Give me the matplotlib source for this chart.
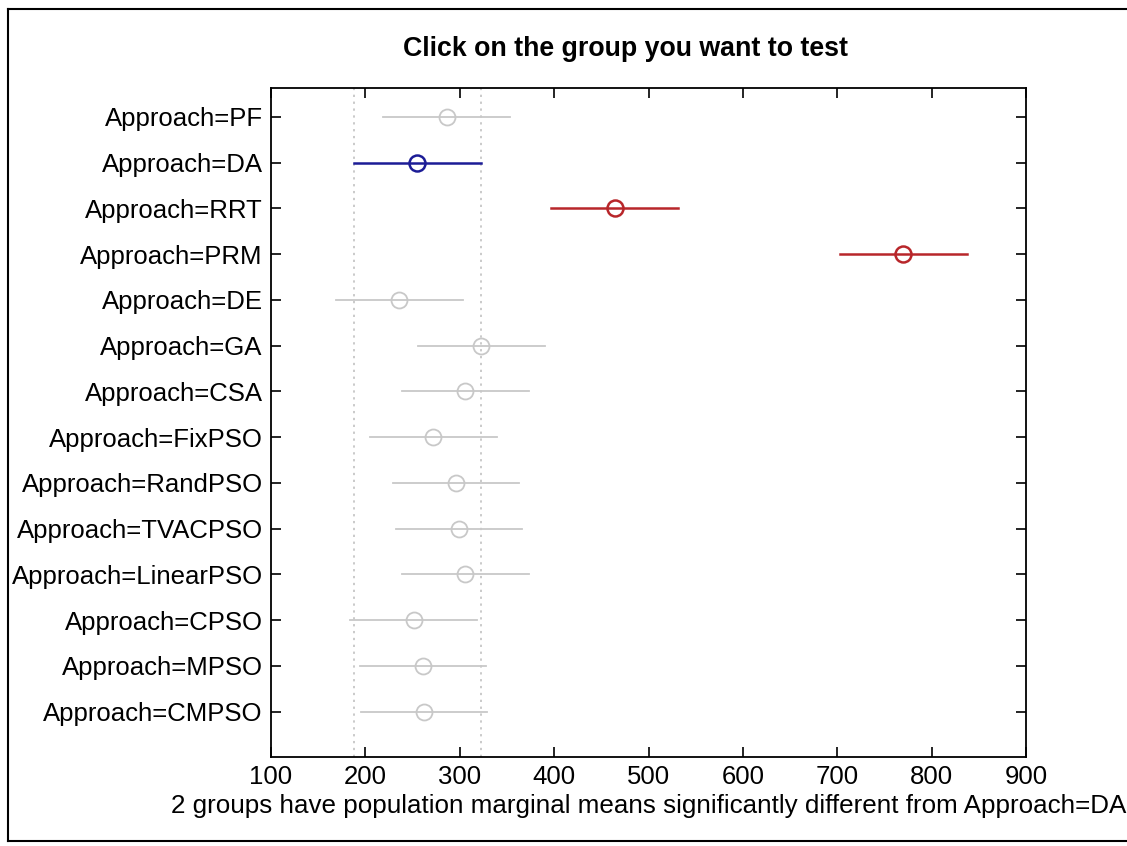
import matplotlib
matplotlib.use("Agg")
import matplotlib.pyplot as plt
from matplotlib.lines import Line2D

# group means and 95% comparison-interval half widths (same n per group)
GROUPS = ["PF", "DA", "RRT", "PRM", "DE", "GA", "CSA", "FixPSO", "RandPSO",
          "TVACPSO", "LinearPSO", "CPSO", "MPSO", "CMPSO"]
MEANS = [286, 255, 464, 770, 236, 323, 306, 272, 296, 299, 306, 251, 261, 262]
HALF_WIDTH = [67] * len(GROUPS)
# 0 = not different, 1 = selected group, 2 = significantly different
STATUS = [0, 1, 2, 2, 0, 0, 0, 0, 0, 0, 0, 0, 0, 0]
SELECTED = "DA"
XTICKS = [100, 200, 300, 400, 500, 600, 700, 800, 900]

COLORS = {0: "#c8c8c8", 1: "#1c1c96", 2: "#b8262a"}
LW = {0: 1.3, 1: 1.8, 2: 1.8}

plt.rcParams["font.family"] = ["Liberation Sans", "DejaVu Sans"]

fig = plt.figure(figsize=(11.27, 8.46), dpi=100)
ax = fig.add_axes([0.2405, 0.1052, 0.6699, 0.7908])

n = len(GROUPS)
ys = list(range(n, 0, -1))

# reference band of the selected group
sel = GROUPS.index(SELECTED)
lo, hi = MEANS[sel] - HALF_WIDTH[sel], MEANS[sel] + HALF_WIDTH[sel]
for xv in (lo, hi):
    ax.axvline(xv, color="#bcbcbc", ls=(0, (1.5, 3)), lw=1.1, zorder=1)

for y, m, hw, st in zip(ys, MEANS, HALF_WIDTH, STATUS):
    c = COLORS[st]
    ax.plot([m - hw, m + hw], [y, y], color=c, lw=LW[st], zorder=2)
    ax.plot(m, y, marker="o", ms=11.5, mfc="none", mec=c, mew=LW[st], zorder=3)

ax.set_xlim(100, 900)
ax.set_ylim(0.01, n + 0.63)
ax.set_xticks(XTICKS)
ax.set_xticklabels([str(v) for v in XTICKS])
ax.set_yticks(ys)
ax.set_yticklabels([f"Approach={g}" for g in GROUPS])
ax.tick_params(direction="in", length=7, width=1.2, top=True, right=True,
               labelsize=18.5, pad=6)
for sp in ax.spines.values():
    sp.set_linewidth(1.3)

ax.set_title("Click on the group you want to test", fontsize=19.3,
             fontweight="bold", pad=23, x=0.47)
ax.set_xlabel(f"2 groups have population marginal means significantly "
              f"different from Approach={SELECTED}", fontsize=18.7, labelpad=3)

# window border
for xs_, ys_ in (([8 / 1127, 8 / 1127], [5 / 846, 837 / 846]),
                 ([8 / 1127, 1.0], [837 / 846, 837 / 846]),
                 ([8 / 1127, 1.0], [5 / 846, 5 / 846])):
    fig.add_artist(Line2D(xs_, ys_, transform=fig.transFigure,
                          color="black", lw=1.5))

fig.savefig("out.png", dpi=100)
